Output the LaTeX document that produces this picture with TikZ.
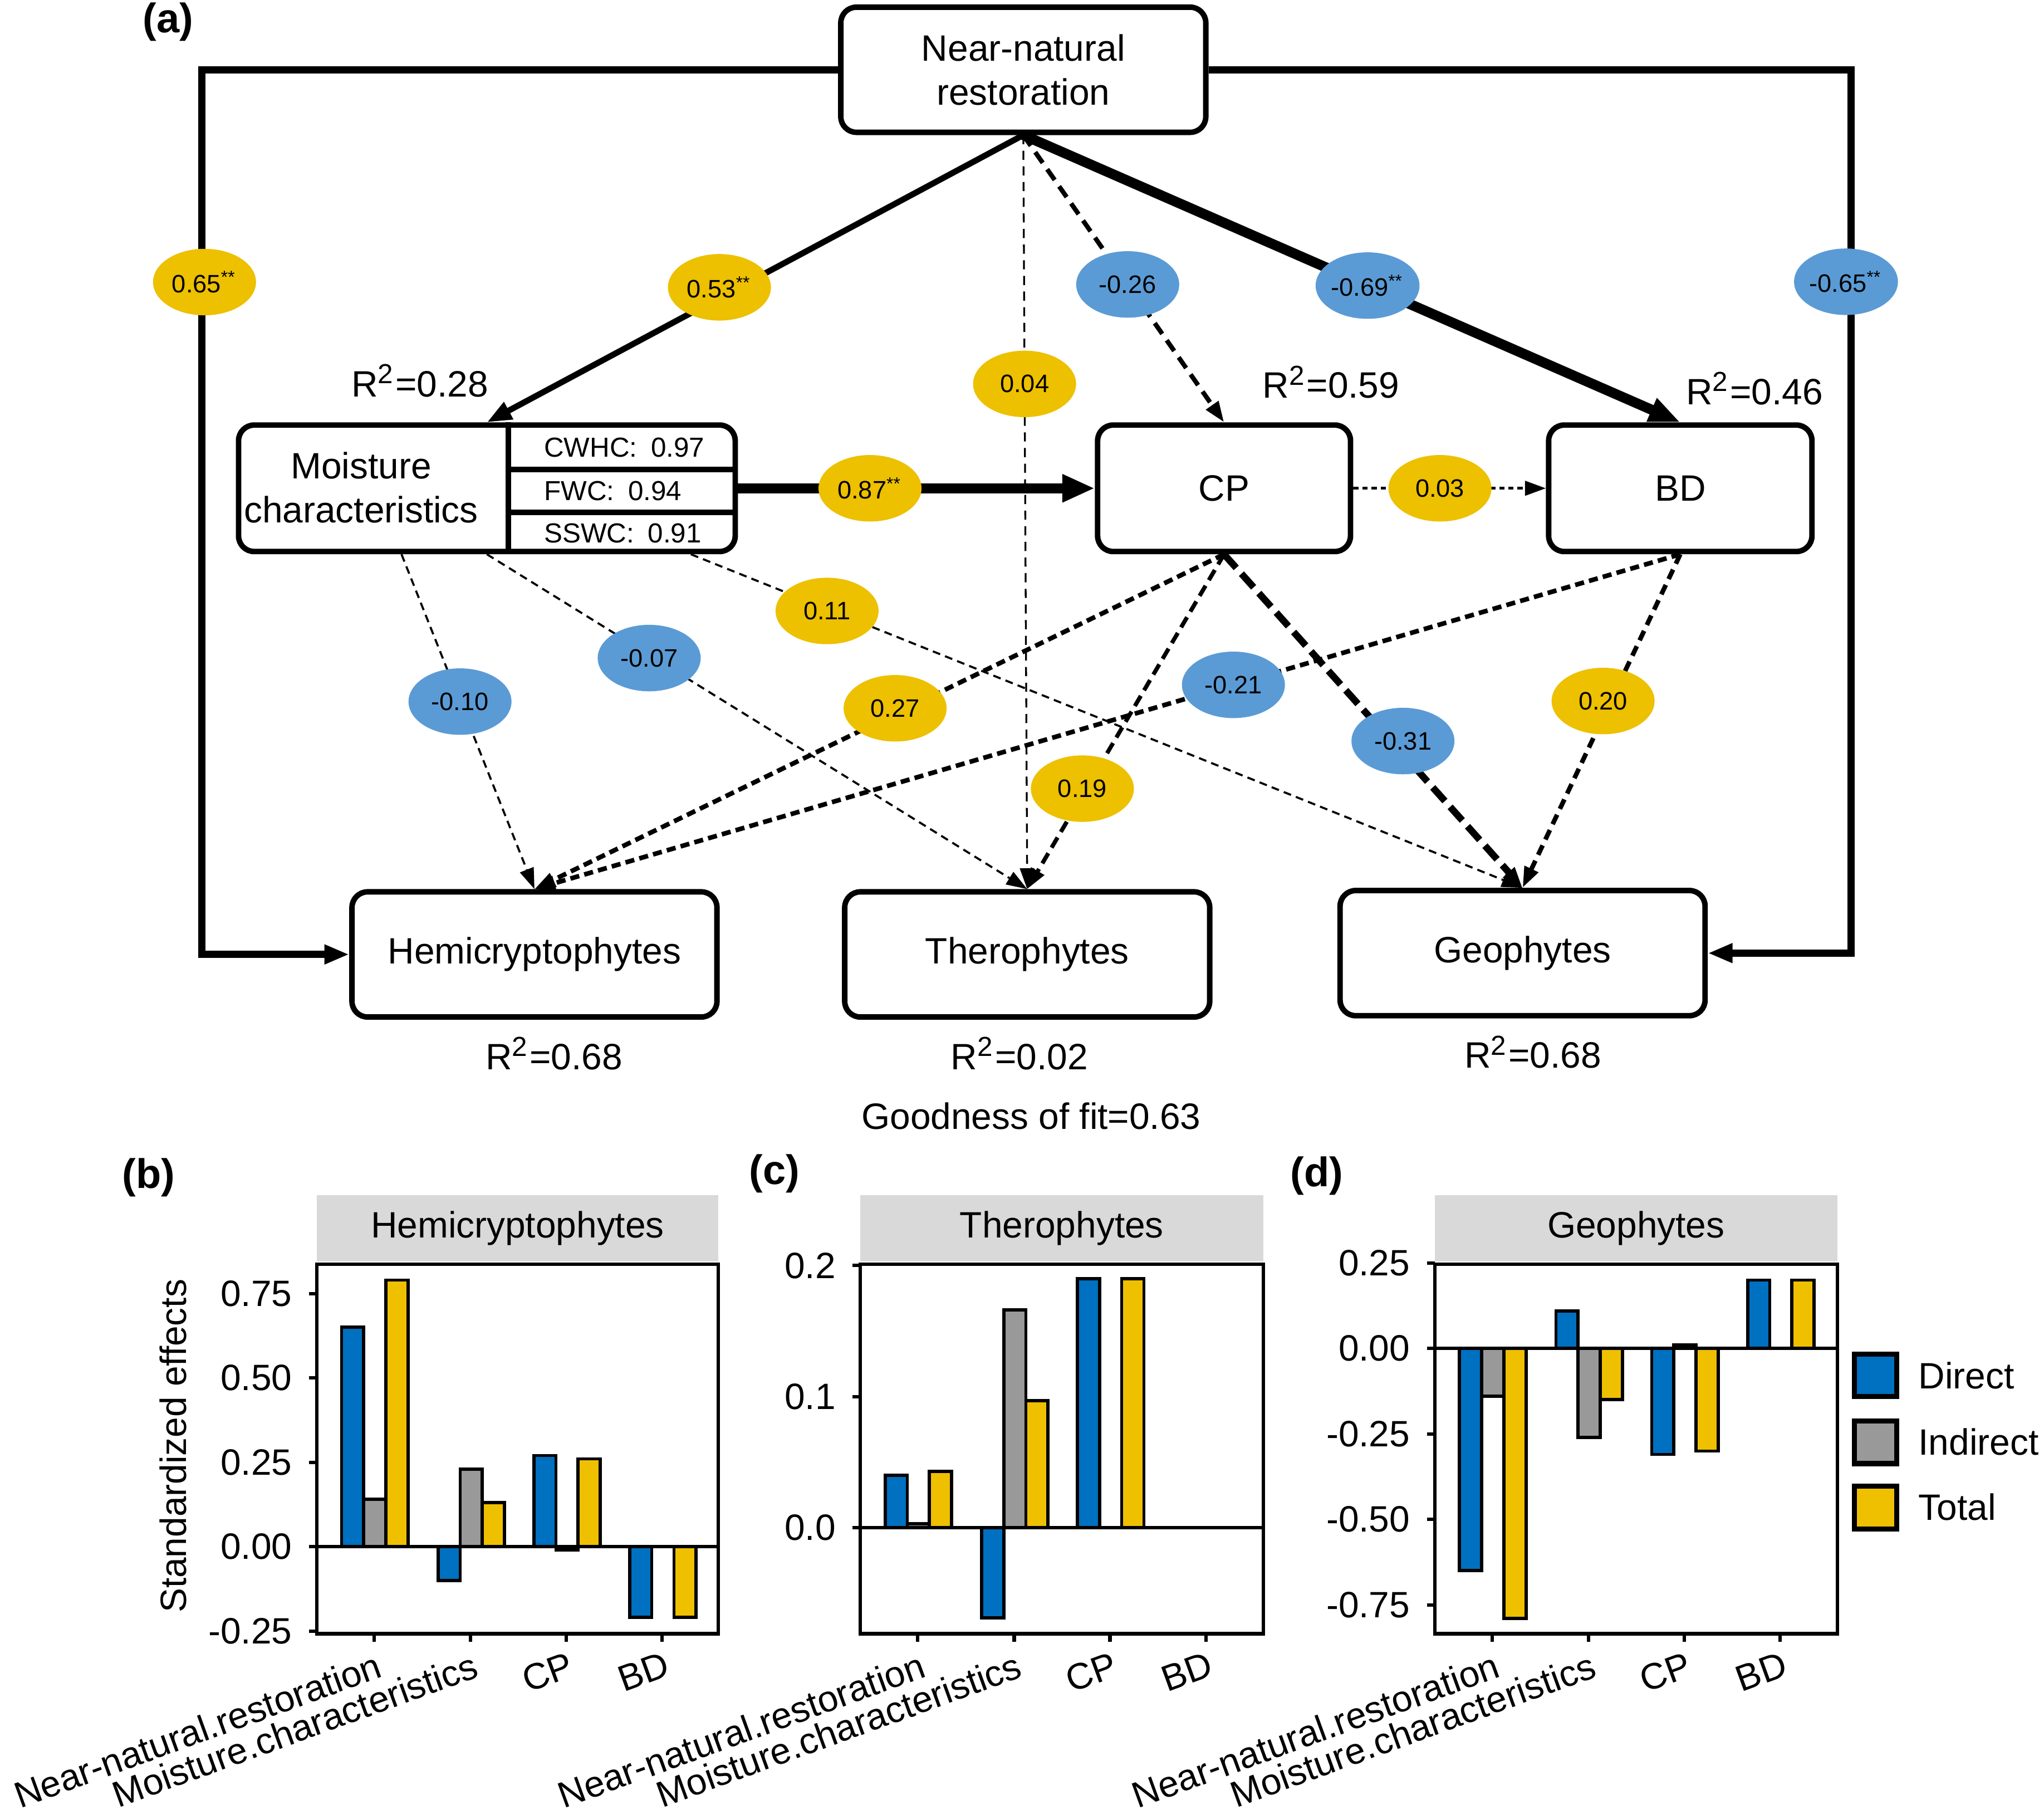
\documentclass[tikz,border=0pt]{standalone}
\usepackage{fontspec}
\setmainfont{Liberation Sans}
\usetikzlibrary{positioning}
\usetikzlibrary{shapes.geometric}
\usetikzlibrary{arrows.meta}

\definecolor{ellyellow}{RGB}{237,192,0}
\definecolor{ellblue}{RGB}{91,155,213}
\definecolor{bardirect}{RGB}{0,112,192}
\definecolor{barindirect}{RGB}{153,153,153}
\definecolor{bartotal}{RGB}{239,192,0}
\definecolor{stripgray}{RGB}{217,217,217}

\tikzset{
    arr/.style={-{Triangle[length=1.6mm,width=1.1mm]}},
    bigarr/.style={-{Triangle[length=2.5mm,width=2mm]}},
    thinlink/.style={line width=0.45pt, dash pattern=on 0.6mm off 0.4mm, arr},
    midlink/.style={line width=1pt, dash pattern=on 0.7mm off 0.4mm, arr},
    dirbar/.style={draw=black, line width=0.7pt, fill=bardirect},
    indbar/.style={draw=black, line width=0.7pt, fill=barindirect},
    totbar/.style={draw=black, line width=0.7pt, fill=bartotal},
    axisline/.style={draw=black, line width=0.75pt},
    xlab/.style={rotate=20, anchor=north east, inner sep=1pt},
    panellabel/.style={font=\fontsize{9}{10}\selectfont\bfseries},
}

\begin{document}
\begin{tikzpicture}[x=0.1mm, y=-0.1mm, font=\fontsize{8}{9.6}\selectfont]
        \useasboundingbox (0,0) rectangle (1568,1388);

        \node[panellabel] (la) at (129,17) {(a)};

        \begin{scope}[every node/.style={draw, line width=1.2pt, rounded corners=1.2mm, align=center,
            minimum width=28mm, minimum height=9.6mm}]
            \node (nnr) at (785,53.5) {Near-natural\\restoration};
            \node[minimum width=38.1mm, minimum height=9.7mm] (moist) at (373.5,374.5) {};
            \node[minimum width=19.4mm, minimum height=9.7mm] (cp) at (939,374.5) {CP};
            \node[minimum width=20.2mm, minimum height=9.7mm] (bd) at (1289,374.5) {BD};
            \node (hemi) at (410,732) {Hemicryptophytes};
            \node (thero) at (788,732) {Therophytes};
            \node (geo) at (1168,731) {Geophytes};
        \end{scope}

        % moisture box parts
        \draw[line width=1.2pt] ([xshift=1.65mm]moist.north) -- ([xshift=1.65mm]moist.south);
        \draw[line width=1.2pt] (390,360) -- (564,360);
        \draw[line width=1.2pt] (390,393) -- (564,393);
        \node[align=center] (moisttxt) at (277,374) {Moisture\\characteristics};
        \begin{scope}[every node/.style={anchor=west, font=\fontsize{6}{7}\selectfont}]
            \node (cwhc) at (405,343) {CWHC:\enspace 0.97};
            \node (fwc) at (405,376.5) {FWC:\enspace 0.94};
            \node (sswc) at (405,409) {SSWC:\enspace 0.91};
        \end{scope}

        \node (r1) at (322,292) {R\textsuperscript{2}=0.28};
        \node (r2) at (1021,293) {R\textsuperscript{2}=0.59};
        \node (r3) at (1346,298) {R\textsuperscript{2}=0.46};
        \node (r4) at (425,808) {R\textsuperscript{2}=0.68};
        \node (r5) at (782,808) {R\textsuperscript{2}=0.02};
        \node (r6) at (1176,807) {R\textsuperscript{2}=0.68};
        \node (gof) at (791,856) {Goodness of fit=0.63};

        \begin{scope}[every node/.style={ellipse, minimum width=7.9mm, minimum height=5.1mm, inner sep=0pt,
            font=\fontsize{5.5}{6}\selectfont}]
            \draw[line width=1.6pt, -{Triangle[length=1.9mm,width=1.4mm]}] (nnr.west) -| node[fill=ellyellow, pos=0.62, xshift=0.2mm] (l65) {0.65\textsuperscript{**}} ([xshift=-11.3mm]hemi.west) -- (hemi.west);
            \draw[line width=1.6pt, -{Triangle[length=1.9mm,width=1.4mm]}] (nnr.east) -| node[fill=ellblue, pos=0.62, xshift=-0.4mm] (l65n) {-0.65\textsuperscript{**}} ([xshift=11mm]geo.east) -- (geo.east);
            \draw[line width=1.3pt, -{Triangle[length=1.9mm,width=1.4mm]}] (nnr.south) -- node[fill=ellyellow, pos=0.53, xshift=-1.5mm] (l53) {0.53\textsuperscript{**}} (moist.north);
            \draw[line width=0.4pt, dash pattern=on 0.7mm off 0.5mm, arr] (nnr.south) -- node[fill=ellyellow, pos=0.33] (l04) {0.04} (thero.north);
            \draw[line width=1pt, dash pattern=on 1mm off 0.6mm, arr] (nnr.south) -- node[fill=ellblue, pos=0.52] (l26) {-0.26} (cp.north);
            \draw[line width=2.2pt, -{Triangle[length=2.4mm,width=1.8mm]}] (nnr.south) -- node[fill=ellblue, pos=0.524] (l69) {-0.69\textsuperscript{**}} (bd.north);

            \draw[line width=2.2pt, bigarr] (moist.east) -- node[fill=ellyellow, pos=0.37] (l87) {0.87\textsuperscript{**}} (cp.west);
            \draw[line width=0.6pt, dash pattern=on 0.4mm off 0.3mm, arr] (cp.east) -- node[fill=ellyellow, pos=0.45] (l03) {0.03} (bd.west);

            \draw[thinlink] ([xshift=-6.55mm]moist.south) -- node[fill=ellblue, pos=0.44] (l10) {-0.10} (hemi.north);
            \draw[thinlink] (moist.south) -- node[fill=ellblue, pos=0.31, xshift=-0.4mm] (l07) {-0.07} (thero.north);
            \draw[thinlink] ([xshift=15.65mm]moist.south) -- node[fill=ellyellow, pos=0.17, xshift=-0.4mm] (l11) {0.11} (geo.north);

            \draw[midlink] (cp.south) -- node[fill=ellyellow, pos=0.46, xshift=-0.9mm] (l27) {0.27} (hemi.north);
            \draw[line width=0.9pt, dash pattern=on 0.9mm off 0.5mm, arr] (cp.south) -- node[fill=ellyellow, pos=0.70, xshift=-0.3mm] (l19) {0.19} (thero.north);
            \draw[line width=1.5pt, dash pattern=on 1.4mm off 0.6mm, arr] (cp.south) -- node[fill=ellblue, pos=0.56, xshift=0.9mm] (l31) {-0.31} (geo.north);

            \draw[midlink] (bd.south) -- node[fill=ellblue, pos=0.39] (l21) {-0.21} (hemi.north);
            \draw[line width=1pt, dash pattern=on 0.8mm off 0.5mm, arr] (bd.south) -- node[fill=ellyellow, pos=0.44, xshift=-0.6mm] (l20) {0.20} (geo.north);
        \end{scope}

        % (b) hemicryptophytes
        \node[panellabel] (lb) at (114,903) {(b)};
        \fill[stripgray] (243,916.5) rectangle (551,967.5);
        \node (sb) at (397,942) {Hemicryptophytes};
        \node[rotate=90] (ytitle) at (133,1109) {Standardized effects};
        \begin{scope}[shift={(243,1186.2)}, y=2.588cm]
            \draw[dirbar] (19,0) rectangle (36,0.65);
            \draw[indbar] (36,0) rectangle (53,0.14);
            \draw[totbar] (53,0) rectangle (70,0.79);
            \draw[dirbar] (93,0) rectangle (110,-0.10);
            \draw[indbar] (110,0) rectangle (127,0.23);
            \draw[totbar] (127,0) rectangle (144,0.13);
            \draw[dirbar] (166.5,0) rectangle (183.5,0.27);
            \draw[indbar] (183.5,0) rectangle (200.5,-0.01);
            \draw[totbar] (200.5,0) rectangle (217.5,0.26);
            \draw[dirbar] (240,0) rectangle (257,-0.21);
            \draw[totbar] (274,0) rectangle (291,-0.21);
            \draw[axisline] (0,0) -- (308,0);
            \draw[axisline] (0,0.75) -- (-6,0.75) node[left] (yb1) {0.75};
            \draw[axisline] (0,0.50) -- (-6,0.50) node[left] (yb2) {0.50};
            \draw[axisline] (0,0.25) -- (-6,0.25) node[left] (yb3) {0.25};
            \draw[axisline] (0,0) -- (-6,0) node[left] (yb4) {0.00};
            \draw[axisline] (0,-0.25) -- (-6,-0.25) node[left] (yb5) {-0.25};
        \end{scope}
        \draw[axisline] (243,969.5) rectangle (551,1253);
        \draw[axisline] (287,1253) -- (287,1259);
        \draw[axisline] (361,1253) -- (361,1259);
        \draw[axisline] (434.5,1253) -- (434.5,1259);
        \draw[axisline] (508,1253) -- (508,1259);
        \node[xlab] (xb1) at (290,1261) {Near-natural.restoration};
        \node[xlab] (xb2) at (364,1261) {Moisture.characteristics};
        \node[xlab] (xb3) at (437.5,1261) {CP};
        \node[xlab] (xb4) at (511,1261) {BD};

        % (c) therophytes
        \node[panellabel] (lc) at (594,900) {(c)};
        \fill[stripgray] (660,916.5) rectangle (969,967.5);
        \node (sc) at (814.5,942) {Therophytes};
        \begin{scope}[shift={(660,1171.6)}, y=10.05cm]
            \draw[dirbar] (19,0) rectangle (36,0.040);
            \draw[indbar] (36,0) rectangle (53,0.003);
            \draw[totbar] (53,0) rectangle (70,0.043);
            \draw[dirbar] (93,0) rectangle (110,-0.069);
            \draw[indbar] (110,0) rectangle (127,0.166);
            \draw[totbar] (127,0) rectangle (144,0.097);
            \draw[dirbar] (166.5,0) rectangle (183.5,0.19);
            \draw[totbar] (200.5,0) rectangle (217.5,0.19);
            \draw[axisline] (0,0) -- (309,0);
            \draw[axisline] (0,0.2) -- (-6,0.2) node[left] (yc1) {0.2};
            \draw[axisline] (0,0.1) -- (-6,0.1) node[left] (yc2) {0.1};
            \draw[axisline] (0,0) -- (-6,0) node[left] (yc3) {0.0};
        \end{scope}
        \draw[axisline] (660,969.5) rectangle (969,1253);
        \draw[axisline] (704,1253) -- (704,1259);
        \draw[axisline] (778,1253) -- (778,1259);
        \draw[axisline] (851.5,1253) -- (851.5,1259);
        \draw[axisline] (925,1253) -- (925,1259);
        \node[xlab] (xc1) at (707,1261) {Near-natural.restoration};
        \node[xlab] (xc2) at (781,1261) {Moisture.characteristics};
        \node[xlab] (xc3) at (854.5,1261) {CP};
        \node[xlab] (xc4) at (928,1261) {BD};

        % (d) geophytes
        \node[panellabel] (ld) at (1010,902) {(d)};
        \fill[stripgray] (1100.6,916.5) rectangle (1409.7,967.5);
        \node (sd) at (1255,942) {Geophytes};
        \begin{scope}[shift={(1100.6,1034.2)}, y=2.622cm]
            \draw[dirbar] (19,0) rectangle (36,-0.65);
            \draw[indbar] (36,0) rectangle (53,-0.14);
            \draw[totbar] (53,0) rectangle (70,-0.79);
            \draw[dirbar] (93,0) rectangle (110,0.11);
            \draw[indbar] (110,0) rectangle (127,-0.26);
            \draw[totbar] (127,0) rectangle (144,-0.15);
            \draw[dirbar] (166.5,0) rectangle (183.5,-0.31);
            \draw[indbar] (183.5,0) rectangle (200.5,0.01);
            \draw[totbar] (200.5,0) rectangle (217.5,-0.30);
            \draw[dirbar] (240,0) rectangle (257,0.20);
            \draw[totbar] (274,0) rectangle (291,0.20);
            \draw[axisline] (0,0) -- (309,0);
            \draw[axisline] (0,0.25) -- (-6,0.25) node[left] (yd1) {0.25};
            \draw[axisline] (0,0) -- (-6,0) node[left] (yd2) {0.00};
            \draw[axisline] (0,-0.25) -- (-6,-0.25) node[left] (yd3) {-0.25};
            \draw[axisline] (0,-0.50) -- (-6,-0.50) node[left] (yd4) {-0.50};
            \draw[axisline] (0,-0.75) -- (-6,-0.75) node[left] (yd5) {-0.75};
        \end{scope}
        \draw[axisline] (1100.6,969.5) rectangle (1409.7,1253);
        \draw[axisline] (1144.6,1253) -- (1144.6,1259);
        \draw[axisline] (1218.6,1253) -- (1218.6,1259);
        \draw[axisline] (1292.1,1253) -- (1292.1,1259);
        \draw[axisline] (1365.6,1253) -- (1365.6,1259);
        \node[xlab] (xd1) at (1147.6,1261) {Near-natural.restoration};
        \node[xlab] (xd2) at (1221.6,1261) {Moisture.characteristics};
        \node[xlab] (xd3) at (1295.1,1261) {CP};
        \node[xlab] (xd4) at (1368.6,1261) {BD};

        % legend
        \draw[dirbar, line width=1.1pt] (1422.5,1038.5) rectangle (1455,1071);
        \draw[indbar, line width=1.1pt] (1422.5,1090) rectangle (1455,1122.5);
        \draw[totbar, line width=1.1pt] (1422.5,1140) rectangle (1455,1172.5);
        \begin{scope}[every node/.style={anchor=west, inner sep=0pt}]
            \node (kdir) at (1471,1055) {Direct};
            \node (kind) at (1471,1106) {Indirect};
            \node (ktot) at (1471,1156) {Total};
        \end{scope}
    \end{tikzpicture}
\end{document}
